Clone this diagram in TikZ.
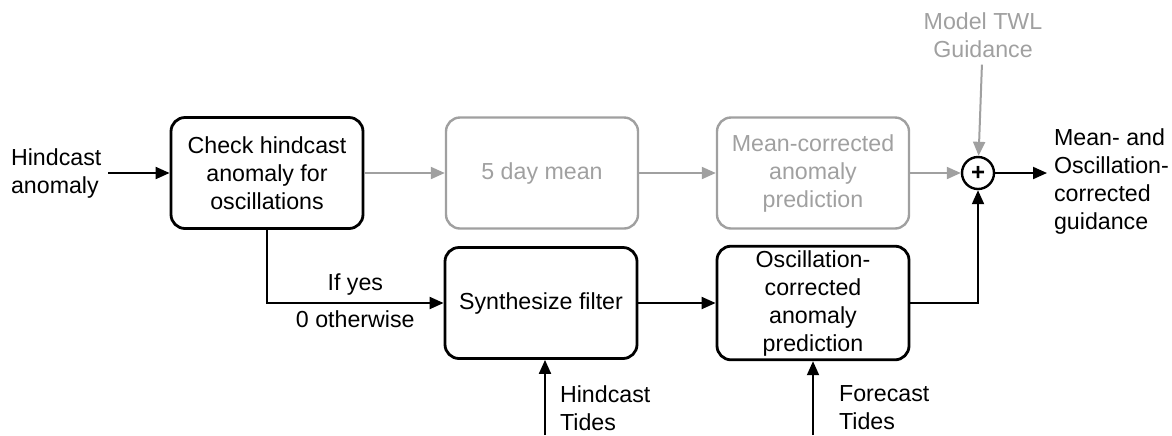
\documentclass[tikz,border=0pt]{standalone}
\usepackage{fontspec}
\setmainfont{Liberation Sans}
\usetikzlibrary{arrows.meta}
\definecolor{fadegray}{HTML}{A0A0A0}

\begin{document}
\begin{tikzpicture}[x=0.5pt, y=-0.5pt,
		every node/.style={font=\fontsize{11.6pt}{14pt}\selectfont},
		blockbox/.style={draw, rectangle, rounded corners=7pt, line width=1.4pt, align=center, minimum width=96pt, minimum height=55.5pt, inner sep=2pt},
		fadebox/.style={blockbox, draw=fadegray, text=fadegray, line width=1.2pt},
		flow/.style={->, >={Triangle[length=7pt, width=6pt]}, line width=1pt},
		fadeflow/.style={flow, draw=fadegray, fill=fadegray}]
				\useasboundingbox (0, 0) rectangle (1172, 435);
				\node[align=left, anchor=west] (HA)at(4, 173) {Hindcast\\anomaly};
				\node[blockbox] (CHK)at(267, 173) {Check hindcast\\anomaly for\\oscillations};
				\node[fadebox] (MEAN)at(542, 173) {5 day mean};
				\node[fadebox] (MCA)at(813, 173) {Mean-corrected\\anomaly\\prediction};
				\node[draw, circle, line width=1.2pt, minimum size=16pt, inner sep=0pt, font=\fontsize{12pt}{12pt}\selectfont\bfseries] (SUM)at(978, 173) {+};
				\node[align=center, text=fadegray] (TWL)at(983, 35) {Model TWL\\Guidance};
				\node[align=left, anchor=west] (OUT)at(1047, 181) {Mean- and\\Oscillation-\\corrected\\guidance};
				\node[blockbox] (SYN)at(541, 303) {Synthesize filter};
				\node[blockbox] (OCA)at(813, 303) {Oscillation-\\corrected\\anomaly\\prediction};
				\node[align=left, anchor=west] (HT)at(553, 408) {Hindcast\\Tides};
				\node[align=left, anchor=west] (FT)at(832, 408) {Forecast\\Tides};
				\coordinate (HTin) at (545, 435);
				\coordinate (FTin) at (813, 435);
				\draw[flow] (HA) -- (CHK);
				\draw[fadeflow] (CHK) -- (MEAN);
				\draw[fadeflow] (MEAN) -- (MCA);
				\draw[fadeflow] (MCA) -- (SUM);
				\draw[fadeflow] (TWL) -- (SUM);
				\draw[flow] (SUM) -- (OUT.west |- SUM);
				\draw[flow] (CHK.south) |- (SYN.west) node[pos=0.75, above] {If yes} node[pos=0.75, below] {0 otherwise};
				\draw[flow] (SYN) -- (OCA);
				\draw[flow] (OCA.east) -| (SUM.south);
				\draw[flow] (HTin) -- (HTin |- SYN.south);
				\draw[flow] (FTin) -- (OCA.south);
			\end{tikzpicture}
\end{document}
